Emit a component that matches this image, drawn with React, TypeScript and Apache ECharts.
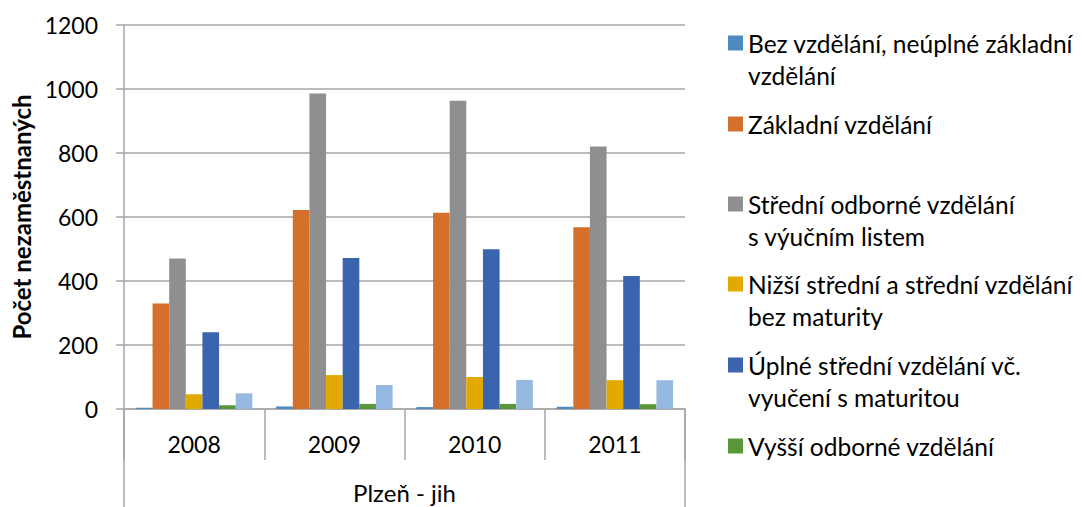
import React, { useEffect, useRef } from "react";
import * as echarts from "echarts";

const years = ["2008", "2009", "2010", "2011"];
const groupLabel = ["Plzeň - jih"];
const seriesNames = [
  "Bez vzdělání, neúplné základní vzdělání",
  "Základní vzdělání",
  "Střední odborné vzdělání s výučním listem",
  "Nižší střední a střední vzdělání bez maturity",
  "Úplné střední vzdělání vč. vyučení s maturitou",
  "Vyšší odborné vzdělání",
  "Vysokoškolské vzdělání",
];
const legendLines = [
  ["Bez vzdělání, neúplné základní", "vzdělání"],
  ["Základní vzdělání"],
  ["Střední odborné vzdělání", "s výučním listem"],
  ["Nižší střední a střední vzdělání", "bez maturity"],
  ["Úplné střední vzdělání vč.", "vyučení s maturitou"],
  ["Vyšší odborné vzdělání"],
];
const bezVzdelani = [4, 8, 6, 7];
const zakladni = [330, 622, 613, 568];
const stredniOdborne = [470, 986, 963, 820];
const nizsiStredni = [46, 106, 100, 90];
const uplneStredni = [240, 472, 499, 416];
const vyssiOdborne = [12, 16, 16, 15];
const vysokoskolske = [49, 75, 91, 90];
const yTicks = [0, 200, 400, 600, 800, 1000, 1200];

const colors = ["#4E89C2", "#D4702C", "#8F8F8F", "#E2AA00", "#3A64AD", "#5A963A", "#95B9E0"];
const seriesData = [bezVzdelani, zakladni, stredniOdborne, nizsiStredni, uplneStredni, vyssiOdborne, vysokoskolske];
const legendCenters = [43, 124, 204, 284, 365, 446];

const FONT = "Lato";

export default function App() {
  const ref = useRef<HTMLDivElement>(null);
  useEffect(() => {
    if (!ref.current) return;
    const chart = echarts.init(ref.current, undefined, { renderer: "svg" });
    const lineH = 32;
    const legends = legendLines.map((lines, i) => {
      const two = lines.length > 1;
      return {
        show: true,
        orient: "vertical",
        left: 728,
        top: legendCenters[i] - (two ? lineH * 1.5 : lineH / 2),
        padding: 0,
        itemWidth: 15,
        itemHeight: 15,
        icon: "rect",
        selectedMode: false,
        data: [seriesNames[i]],
        formatter: () => (two ? "\u00a0\n" + lines.join("\n") : lines[0]),
        textStyle: {
          fontFamily: FONT,
          fontSize: 24.5,
          color: "#000",
          lineHeight: lineH,
        },
      };
    });
    chart.setOption({
      animation: false,
      color: colors,
      textStyle: { fontFamily: FONT },
      grid: { left: 124, top: 25, right: 397, bottom: 98, containLabel: false },
      legend: legends,
      xAxis: [
        {
          type: "category",
          data: years,
          position: "bottom",
          axisLine: { show: true, lineStyle: { color: "#A6A6A6", width: 1.5 } },
          axisTick: { show: true, length: 51, alignWithLabel: false, lineStyle: { color: "#A6A6A6", width: 1.5 } },
          axisLabel: { margin: 23, fontSize: 23, color: "#000", fontFamily: FONT },
        },
        {
          type: "category",
          data: groupLabel,
          position: "bottom",
          axisLine: { show: false },
          axisTick: { show: true, length: 98, alignWithLabel: false, lineStyle: { color: "#A6A6A6", width: 1.5 } },
          axisLabel: { margin: 71, fontSize: 24, color: "#000", fontFamily: FONT },
        },
      ],
      yAxis: {
        type: "value",
        min: yTicks[0],
        max: yTicks[yTicks.length - 1],
        interval: yTicks[1] - yTicks[0],
        name: "Počet nezaměstnaných",
        nameLocation: "middle",
        nameRotate: 90,
        nameGap: 85,
        nameTextStyle: { fontFamily: FONT, fontSize: 24, fontWeight: "bold", color: "#000" },
        axisLine: { show: true, lineStyle: { color: "#A6A6A6", width: 1.5 } },
        axisTick: { show: true, length: 8, lineStyle: { color: "#A6A6A6", width: 1.5 } },
        axisLabel: {
          margin: 26,
          fontSize: 23,
          color: "#000",
          fontFamily: FONT,
          formatter: (v: number) => String(v),
        },
        splitLine: { show: true, lineStyle: { color: "#A6A6A6", width: 1.5 } },
      },
      series: seriesNames.map((name, i) => ({
        name,
        type: "bar",
        xAxisIndex: 0,
        data: seriesData[i],
        barGap: "0%",
        barCategoryGap: "17%",
        itemStyle: { color: colors[i] },
      })),
    });
    return () => chart.dispose();
  }, []);
  return (
    <div
      ref={ref}
      style={{ position: "fixed", left: 0, top: 0, width: 1082, height: 507, background: "#fff" }}
    />
  );
}
